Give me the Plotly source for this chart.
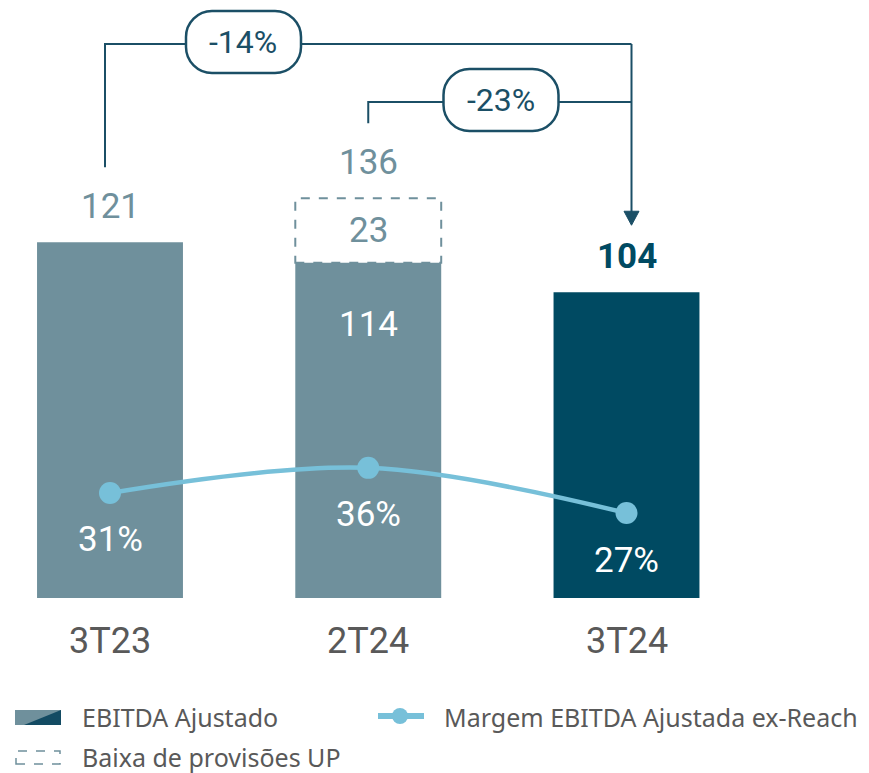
import plotly.graph_objects as go

# ---------------- data ----------------
categories = ["3T23", "2T24", "3T24"]
ebitda_ajustado = [121, 114, 104]
baixa_provisoes = [None, 23, None]
total_labels = [121, 136, 104]
margem = [31, 36, 27]
variacoes = ["-14%", "-23%"]
legend_labels = ["EBITDA Ajustado", "Margem EBITDA Ajustada ex-Reach", "Baixa de provisões UP"]

# ---------------- styling / geometry ----------------
OFF = 8                      # page body margin
W, H = 869 - OFF, 773 - OFF
LIGHT = "#6F909C"
DARK = "#004A62"
LINE = "#77C0D9"
ARROW = "#1B4F66"
GREY = "#595959"
NUM_FONT = "Liberation Sans Narrow, Roboto, Noto Sans, sans-serif"
TXT_FONT = "Noto Sans, Open Sans, sans-serif"

PX_PER_CAT = 258.25
FIRST_CAT_PX = 110               # page pixel of first category centre
X0 = -(FIRST_CAT_PX - OFF) / PX_PER_CAT
X1 = X0 + W / PX_PER_CAT
Y_PX_PER_UNIT = 2.94
BASE_PX = 598                    # page pixel row of zero line
Y1 = (BASE_PX - OFF) / Y_PX_PER_UNIT
Y0 = -(H - (BASE_PX - OFF)) / Y_PX_PER_UNIT
M_PX_PER_UNIT = 5.02
M_REF, M_REF_PX = 31.33, 491.3
M1 = M_REF + (M_REF_PX - OFF) / M_PX_PER_UNIT
M0 = M_REF - (H - (M_REF_PX - OFF)) / M_PX_PER_UNIT
BAR_W = 0.565


def xpx(x):
    return OFF + (x - X0) / (X1 - X0) * W


def ypx(y):
    return BASE_PX - y * Y_PX_PER_UNIT


def px(x):   # page pixel -> paper
    return (x - OFF) / W


def py(y):
    return 1 - (y - OFF) / H


bar_colors = [LIGHT, LIGHT, DARK]
xs = list(range(len(categories)))

fig = go.Figure()
fig.add_trace(go.Bar(x=xs, y=ebitda_ajustado, width=BAR_W, marker=dict(color=bar_colors, line=dict(width=0)),
                     showlegend=False, hoverinfo="skip"))
fig.add_trace(go.Scatter(x=xs, y=margem, yaxis="y2", mode="lines+markers",
                         line=dict(color=LINE, width=4.5, shape="spline", smoothing=1),
                         marker=dict(color=LINE, size=22), showlegend=False, hoverinfo="skip"))

shapes = []
ann = []

# dashed box for "Baixa de provisões UP"
for i, v in enumerate(baixa_provisoes):
    if v is None:
        continue
    shapes.append(dict(type="rect", xref="x", yref="y", x0=i - BAR_W / 2, x1=i + BAR_W / 2,
                       y0=ebitda_ajustado[i], y1=total_labels[i],
                       line=dict(color=LIGHT, width=2, dash="dash"), fillcolor="rgba(0,0,0,0)"))
    ann.append(dict(x=i, y=(ebitda_ajustado[i] + total_labels[i]) / 2, xref="x", yref="y", text=str(v),
                    showarrow=False, font=dict(family=NUM_FONT, size=35, color=LIGHT), yanchor="middle"))
    ann.append(dict(x=i, y=ebitda_ajustado[i], xref="x", yref="y", text=str(ebitda_ajustado[i]),
                    showarrow=False, yshift=-62, yanchor="middle",
                    font=dict(family=NUM_FONT, size=35, color="white")))

# totals above bars
for i, t in enumerate(total_labels):
    last = i == len(total_labels) - 1
    ann.append(dict(x=i, y=t, xref="x", yref="y", text=f"<b>{t}</b>" if last else str(t),
                    showarrow=False, yshift=36, yanchor="middle",
                    font=dict(family=NUM_FONT, size=35, color=DARK if last else LIGHT)))

# margin labels
for i, m in enumerate(margem):
    ann.append(dict(x=i, y=m, xref="x", yref="y2", text=f"{m}%", showarrow=False,
                    yshift=-47, yanchor="middle", font=dict(family=NUM_FONT, size=35, color="white")))

# category labels
for i, c in enumerate(categories):
    ann.append(dict(x=i, y=py(641), xref="x", yref="paper", text=c, showarrow=False, yanchor="middle",
                    font=dict(family=NUM_FONT, size=36, color=GREY)))

# variation brackets
arrow_x = xpx(2) + 5
tip_px = ypx(total_labels[2]) - 67
brackets = [(0, 44, -5), (1, 102, 0)]
for (i, top_px, off) in brackets:
    sx = xpx(i) + off
    start_px = ypx(total_labels[i]) - 75
    path = f"M {px(sx)},{py(start_px)} L {px(sx)},{py(top_px)} L {px(arrow_x)},{py(top_px)}"
    shapes.append(dict(type="path", xref="paper", yref="paper", path=path,
                       line=dict(color=ARROW, width=2)))
shapes.append(dict(type="line", xref="paper", yref="paper", x0=px(arrow_x), x1=px(arrow_x),
                   y0=py(44), y1=py(tip_px - 12), line=dict(color=ARROW, width=2)))
shapes.append(dict(type="path", xref="paper", yref="paper",
                   path=f"M {px(arrow_x - 7.5)},{py(tip_px - 14)} L {px(arrow_x + 7.5)},{py(tip_px - 14)} "
                        f"L {px(arrow_x)},{py(tip_px)} Z",
                   fillcolor=ARROW, line=dict(color=ARROW, width=1)))


def pill(cx, cy, w, h, r):
    x0, x1, y0, y1 = cx - w / 2, cx + w / 2, cy - h / 2, cy + h / 2
    k = 0.55 * r
    pts = [
        f"M {px(x0 + r)},{py(y0)}",
        f"L {px(x1 - r)},{py(y0)}",
        f"C {px(x1 - r + k)},{py(y0)} {px(x1)},{py(y0 + r - k)} {px(x1)},{py(y0 + r)}",
        f"L {px(x1)},{py(y1 - r)}",
        f"C {px(x1)},{py(y1 - r + k)} {px(x1 - r + k)},{py(y1)} {px(x1 - r)},{py(y1)}",
        f"L {px(x0 + r)},{py(y1)}",
        f"C {px(x0 + r - k)},{py(y1)} {px(x0)},{py(y1 - r + k)} {px(x0)},{py(y1 - r)}",
        f"L {px(x0)},{py(y0 + r)}",
        f"C {px(x0)},{py(y0 + r - k)} {px(x0 + r - k)},{py(y0)} {px(x0 + r)},{py(y0)} Z",
    ]
    return " ".join(pts)


pills = [(243.5, 42, variacoes[0]), (501, 100, variacoes[1])]
for cx, cy, label in pills:
    shapes.append(dict(type="path", xref="paper", yref="paper", path=pill(cx, cy, 115, 62, 26),
                       fillcolor="white", line=dict(color=ARROW, width=2.5), layer="above"))
    ann.append(dict(x=px(cx), y=py(cy), xref="paper", yref="paper", text=label, showarrow=False,
                    xanchor="center", yanchor="middle", font=dict(family=NUM_FONT, size=32, color=ARROW)))

# ---------------- manual legend ----------------
shapes.append(dict(type="rect", xref="paper", yref="paper", x0=px(15), x1=px(61), y0=py(725), y1=py(710),
                   fillcolor=LIGHT, line=dict(width=0)))
shapes.append(dict(type="path", xref="paper", yref="paper",
                   path=f"M {px(24)},{py(725)} L {px(61)},{py(710)} L {px(61)},{py(725)} Z",
                   fillcolor="#134B63", line=dict(width=0)))
ann.append(dict(x=px(80), y=py(717), xref="paper", yref="paper", text=legend_labels[0], showarrow=False,
                xanchor="left", yanchor="middle", font=dict(family=TXT_FONT, size=25, color=GREY)))
shapes.append(dict(type="line", xref="paper", yref="paper", x0=px(378), x1=px(424), y0=py(716), y1=py(716),
                   line=dict(color=LINE, width=6)))
shapes.append(dict(type="circle", xref="paper", yref="paper", x0=px(392), x1=px(408), y0=py(724), y1=py(708),
                   fillcolor=LINE, line=dict(width=0)))
ann.append(dict(x=px(442), y=py(717), xref="paper", yref="paper", text=legend_labels[1], showarrow=False,
                xanchor="left", yanchor="middle", font=dict(family=TXT_FONT, size=25, color=GREY)))
shapes.append(dict(type="rect", xref="paper", yref="paper", x0=px(16), x1=px(60), y0=py(764), y1=py(751),
                   fillcolor="rgba(0,0,0,0)", line=dict(color=LIGHT, width=1.5, dash="dash")))
ann.append(dict(x=px(80), y=py(757), xref="paper", yref="paper", text=legend_labels[2], showarrow=False,
                xanchor="left", yanchor="middle", font=dict(family=TXT_FONT, size=25, color=GREY)))

fig.update_layout(
    width=W, height=H, margin=dict(l=0, r=0, t=0, b=0, pad=0),
    paper_bgcolor="white", plot_bgcolor="white",
    xaxis=dict(range=[X0, X1], visible=False, fixedrange=True),
    yaxis=dict(range=[Y0, Y1], visible=False, fixedrange=True),
    yaxis2=dict(range=[M0, M1], visible=False, overlaying="y", fixedrange=True),
    shapes=shapes, annotations=ann, showlegend=False,
)

fig.write_html("out.html")
